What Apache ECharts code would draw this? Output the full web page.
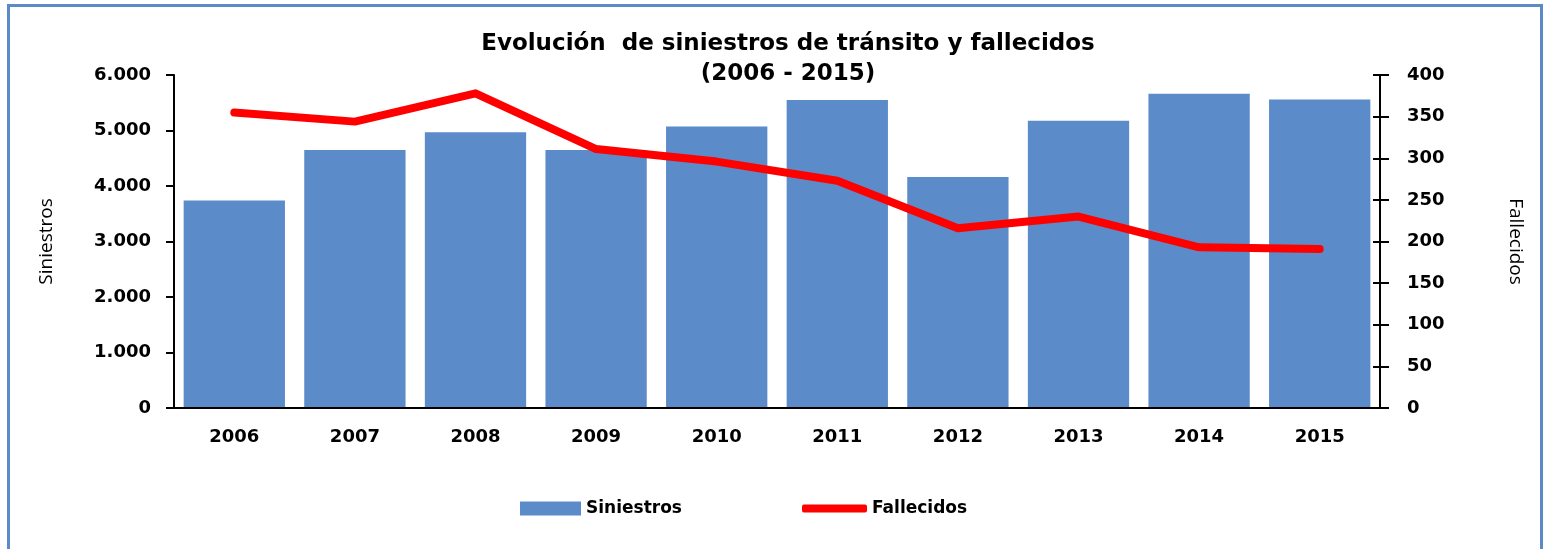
<!DOCTYPE html>
<html>
<head>
<meta charset="utf-8">
<script src="https://cdn.jsdelivr.net/npm/echarts@6/dist/echarts.min.js"></script>
<style>
  html, body { margin: 0; padding: 0; background: #fff; }
  #chart { width: 1548px; height: 549px; }
</style>
</head>
<body>
<div id="chart"></div>
<script>
// Siniestros de tránsito (eje izq.) y fallecidos (eje der.), 2006-2015

const years = ['2006', '2007', '2008', '2009', '2010', '2011', '2012', '2013', '2014', '2015'];
const siniestros = [3740, 4650, 4970, 4650, 5070, 5550, 4160, 5175, 5660, 5560];
const fallecidos = [355, 344, 378, 311, 296, 273, 216, 230, 193, 191];

const BLUE = '#5B8CC9';
const RED = '#FF0000';
const TICK_FONT = { fontFamily: 'DejaVu Sans', fontWeight: 'bold', fontSize: 18, color: '#000' };
const NAME_FONT = { fontFamily: 'Open Sans', fontSize: 19, color: '#000' };

const chart = echarts.init(document.getElementById('chart'), null, { renderer: 'canvas' });

chart.setOption({
  backgroundColor: '#fff',
  animation: false,
  title: {
    text: 'Evolución  de siniestros de tránsito y fallecidos\n(2006 - 2015)',
    left: 783,
    top: 24,
    textAlign: 'center',
    textStyle: { fontFamily: 'DejaVu Sans', fontWeight: 'bold', fontSize: 23, lineHeight: 30, color: '#000' },
  },
  graphic: [{
    type: 'rect',
    shape: { x: 8.5, y: 5.5, width: 1533, height: 600 },
    style: { fill: 'none', stroke: '#5B8BC6', lineWidth: 3 },
    silent: true,
  }],
  legend: [
    {
      data: ['Siniestros'],
      left: 515, top: 495,
      icon: 'rect',
      itemWidth: 61, itemHeight: 14,
      textStyle: { fontFamily: 'DejaVu Sans', fontWeight: 'bold', fontSize: 17, color: '#000' },
    },
    {
      data: ['Fallecidos'],
      left: 797, top: 495,
      icon: 'roundRect',
      itemWidth: 65, itemHeight: 8,
      textStyle: { fontFamily: 'DejaVu Sans', fontWeight: 'bold', fontSize: 17, color: '#000' },
    },
  ],
  grid: { left: 174, right: 168, top: 75, bottom: 141, containLabel: false },
  xAxis: {
    type: 'category',
    data: years,
    axisLine: { show: false },
    axisTick: { show: false },
    axisLabel: Object.assign({ margin: 20 }, TICK_FONT),
  },
  yAxis: [
    {
      type: 'value',
      name: 'Siniestros',
      nameLocation: 'middle',
      nameGap: 118,
      nameRotate: 90,
      nameTextStyle: NAME_FONT,
      min: 0, max: 6000, interval: 1000,
      axisLine: { show: true, lineStyle: { color: '#000', width: 2 } },
      axisTick: { show: true, length: 8, lineStyle: { color: '#000', width: 2 } },
      axisLabel: Object.assign({
        margin: 23,
        formatter: v => v === 0 ? '0' : (v / 1000) + '.000',
      }, TICK_FONT),
      splitLine: { show: false },
    },
    {
      type: 'value',
      name: 'Fallecidos',
      position: 'right',
      nameLocation: 'middle',
      nameGap: 126,
      nameRotate: -90,
      nameTextStyle: NAME_FONT,
      min: 0, max: 400, interval: 50,
      axisLine: { show: true, lineStyle: { color: '#000', width: 2 } },
      axisTick: { show: true, length: 9, lineStyle: { color: '#000', width: 2 } },
      axisLabel: Object.assign({ margin: 27 }, TICK_FONT),
      splitLine: { show: false },
    },
    {
      // inner half of the crossing ticks on the right axis
      type: 'value',
      position: 'right',
      min: 0, max: 400, interval: 50,
      axisLine: { show: false },
      axisTick: { show: true, inside: true, length: 7, lineStyle: { color: '#000', width: 2 } },
      axisLabel: { show: false },
      splitLine: { show: false },
    },
  ],
  series: [
    {
      name: 'Siniestros',
      type: 'bar',
      data: siniestros,
      yAxisIndex: 0,
      barCategoryGap: '16%',
      itemStyle: { color: BLUE },
    },
    {
      name: 'Fallecidos',
      type: 'line',
      data: fallecidos,
      yAxisIndex: 1,
      symbol: 'none',
      lineStyle: { color: RED, width: 8, cap: 'round', join: 'round' },
      itemStyle: { color: RED },
    },
    {
      // bottom baseline across both 0-ticks
      type: 'line',
      yAxisIndex: 0,
      data: [],
      markLine: {
        silent: true,
        symbol: 'none',
        label: { show: false },
        lineStyle: { color: '#000', width: 2, type: 'solid' },
        data: [{ yAxis: 0 }],
      },
    },
  ],
});
</script>
</body>
</html>
